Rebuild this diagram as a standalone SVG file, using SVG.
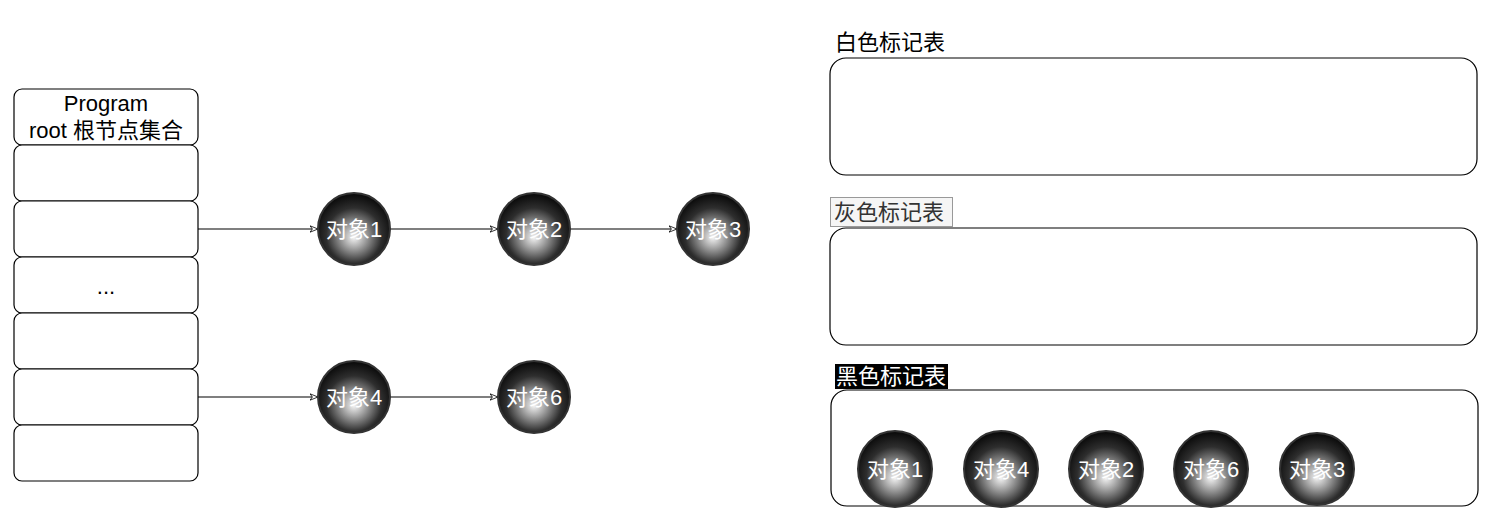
<svg xmlns="http://www.w3.org/2000/svg" width="1491" height="525" viewBox="0 0 1491 525">
<defs>
<radialGradient id="ball" cx="50%" cy="58%" r="55%" fx="50%" fy="62%">
<stop offset="0" stop-color="#f4f4f4"/>
<stop offset="0.3" stop-color="#a0a0a0"/>
<stop offset="0.7" stop-color="#2e2e2e"/>
<stop offset="1" stop-color="#0d0d0d"/>
</radialGradient>
<marker id="arr" viewBox="0 0 10 10" refX="10" refY="5" markerWidth="8" markerHeight="8" orient="auto" markerUnits="userSpaceOnUse">
<path d="M0,1 L10,5 L0,9 L3,5 Z" fill="#fff" stroke="#000" stroke-width="1"/>
</marker>
</defs>
<style>
.cell{fill:#fff;stroke:#000;stroke-width:1.2}
.ball{fill:url(#ball);stroke:#333;stroke-width:2}
.bt{font-family:"Liberation Sans","Noto Sans CJK SC",sans-serif;font-size:22px;fill:#fff;text-anchor:middle;dominant-baseline:central}
.t{font-family:"Liberation Sans","Noto Sans CJK SC",sans-serif;font-size:22px;fill:#000}
.tbl{fill:#fff;stroke:#000;stroke-width:1.2}
.edge{fill:none;stroke:#000;stroke-width:1.2;marker-end:url(#arr)}
</style>
<rect width="1491" height="525" fill="#fff"/>
<g id="roots">
<rect class="cell" x="14" y="89" width="184" height="56" rx="8"/>
<rect class="cell" x="14" y="145" width="184" height="56" rx="8"/>
<rect class="cell" x="14" y="201" width="184" height="56" rx="8"/>
<rect class="cell" x="14" y="257" width="184" height="56" rx="8"/>
<rect class="cell" x="14" y="313" width="184" height="56" rx="8"/>
<rect class="cell" x="14" y="369" width="184" height="56" rx="8"/>
<rect class="cell" x="14" y="425" width="184" height="56" rx="8"/>
<text class="t" x="106" y="111" text-anchor="middle">Program</text>
<text class="t" x="106" y="138" text-anchor="middle">root 根节点集合</text>
<text class="t" x="106" y="294" text-anchor="middle" font-size="17">...</text>
</g>
<g id="connectors">
<line class="edge" x1="198" y1="229" x2="318" y2="229"/>
<line class="edge" x1="390" y1="229" x2="498" y2="229"/>
<line class="edge" x1="570" y1="229" x2="677" y2="229"/>
<line class="edge" x1="198" y1="397" x2="318" y2="397"/>
<line class="edge" x1="390" y1="397" x2="498" y2="397"/>
</g>
<g id="obj1"><circle class="ball" cx="354" cy="229" r="36"/><text class="bt" x="354" y="229">对象1</text></g>
<g id="obj2"><circle class="ball" cx="534" cy="229" r="36"/><text class="bt" x="534" y="229">对象2</text></g>
<g id="obj3"><circle class="ball" cx="713" cy="229" r="36"/><text class="bt" x="713" y="229">对象3</text></g>
<g id="obj4"><circle class="ball" cx="354" cy="397" r="36"/><text class="bt" x="354" y="397">对象4</text></g>
<g id="obj6"><circle class="ball" cx="534" cy="397" r="36"/><text class="bt" x="534" y="397">对象6</text></g>
<g id="white-table">
<text class="t" x="835" y="50">白色标记表</text>
<rect class="tbl" x="830" y="58" width="647" height="117" rx="16"/>
</g>
<g id="gray-table">
<rect x="830.5" y="197.5" width="122" height="29" fill="#f5f5f5" stroke="#999" stroke-width="1"/>
<text class="t" x="834" y="220" style="fill:#333">灰色标记表</text>
<rect class="tbl" x="830" y="228" width="647" height="117" rx="16"/>
</g>
<g id="black-table">
<rect x="835" y="364" width="113" height="25" fill="#000"/>
<text class="t" x="836" y="384" style="fill:#fff">黑色标记表</text>
<rect class="tbl" x="831" y="390" width="647" height="116" rx="16"/>
</g>
<g id="b1"><ellipse class="ball" cx="895" cy="469" rx="37" ry="38"/><text class="bt" x="895" y="469">对象1</text></g>
<g id="b4"><ellipse class="ball" cx="1001" cy="469" rx="37" ry="38"/><text class="bt" x="1001" y="469">对象4</text></g>
<g id="b2"><ellipse class="ball" cx="1106" cy="469" rx="37" ry="38"/><text class="bt" x="1106" y="469">对象2</text></g>
<g id="b6"><ellipse class="ball" cx="1211" cy="469" rx="37" ry="38"/><text class="bt" x="1211" y="469">对象6</text></g>
<g id="b3"><ellipse class="ball" cx="1317" cy="469" rx="37" ry="36"/><text class="bt" x="1317" y="469">对象3</text></g>
</svg>
